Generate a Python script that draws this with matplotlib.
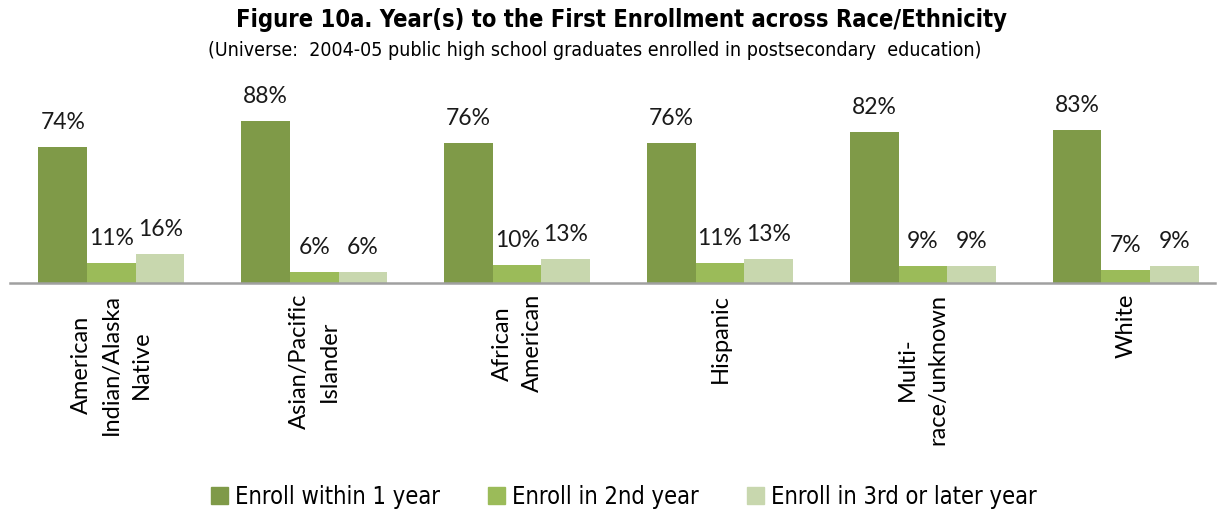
import matplotlib
matplotlib.use("Agg")
import matplotlib.pyplot as plt
import numpy as np
from matplotlib.patches import Patch

NARROW = dict(family="DejaVu Sans", stretch="condensed")
BODY = ["Lato", "DejaVu Sans"]

categories = ["American\nIndian/Alaska\nNative", "Asian/Pacific\nIslander",
              "African\nAmerican", "Hispanic", "Multi-\nrace/unknown", "White"]
series = ["Enroll within 1 year", "Enroll in 2nd year",
          "Enroll in 3rd or later year"]
within_1yr = [74, 88, 76, 76, 82, 83]
second_yr = [11, 6, 10, 11, 9, 7]
third_later = [16, 6, 13, 13, 9, 9]

colors = ["#7F9A48", "#9BBB59", "#C8D7AE"]

W, H = 1225, 515
fig = plt.figure(figsize=(W / 100, H / 100), dpi=100)
ax = fig.add_axes([10 / W, (H - 283) / H, 1205 / W, 184 / H])

x = np.arange(len(categories))
w = 0.24
for i, (vals, c) in enumerate(zip([within_1yr, second_yr, third_later], colors)):
    pos = x + (i - 1) * w
    ax.bar(pos, vals, w, color=c, label=series[i])
    for px, v in zip(pos, vals):
        ax.annotate(f"{v}%", (px, v), xytext=(0, 13), textcoords="offset points",
                    ha="center", va="baseline", fontsize=16.5, family=BODY,
                    color="#1a1a1a")

ax.set_xlim(-0.5, 5.44)
ax.set_ylim(0, 100)
for s in ("top", "right", "left"):
    ax.spines[s].set_visible(False)
ax.spines["bottom"].set_color("#A0A0A0")
ax.spines["bottom"].set_linewidth(1.8)
ax.set_yticks([])
ax.set_xticks(x)
ax.set_xticklabels(categories, rotation=90, fontsize=17, family=BODY,
                   ha="center", va="top", multialignment="center",
                   linespacing=1.55)
ax.tick_params(axis="x", length=0, pad=8)

fig.text(621 / W, 1 - 20 / H,
         "Figure 10a. Year(s) to the First Enrollment across Race/Ethnicity",
         ha="center", va="center", fontsize=17, fontweight="bold", **NARROW)
fig.text(595 / W, 1 - 50 / H,
         "(Universe:  2004-05 public high school graduates enrolled in postsecondary  education)",
         ha="center", va="center", fontsize=14, **NARROW)

handles = [Patch(color=c) for c in colors]
fig.legend(handles, series, loc="center", bbox_to_anchor=(624 / W, 1 - 497 / H),
           ncol=3, frameon=False,
           prop={"family": "DejaVu Sans", "stretch": "condensed", "size": 17},
           handlelength=0.7, handleheight=0.7, handletextpad=0.3,
           columnspacing=2.05)

fig.savefig("out.png", dpi=100)
